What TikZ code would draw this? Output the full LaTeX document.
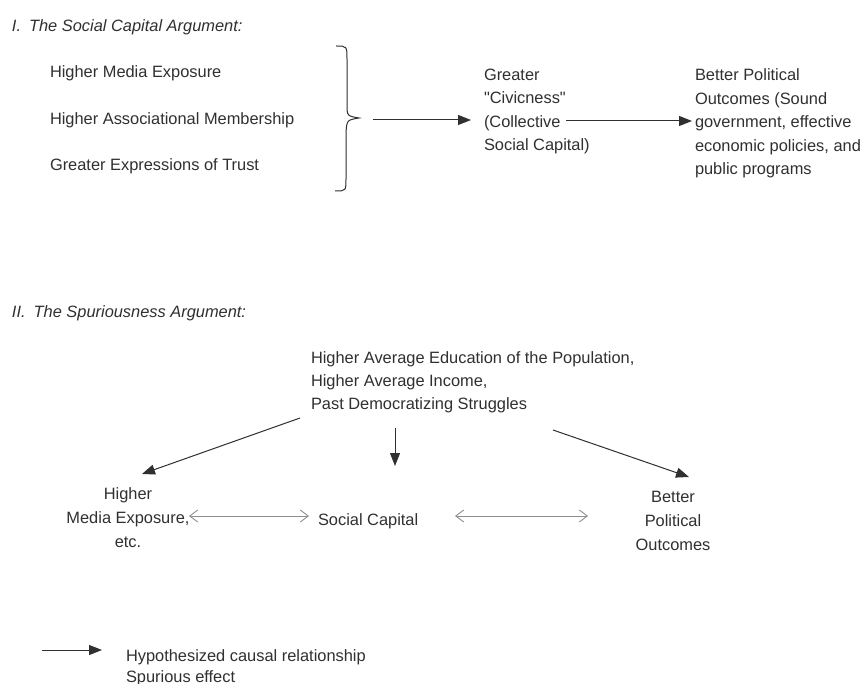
\documentclass[tikz,border=0pt]{standalone}
\usepackage{fontspec}
\setmainfont{Liberation Sans}
\usetikzlibrary{arrows.meta}
\definecolor{ink}{HTML}{303030}
\definecolor{spur}{HTML}{8E8E8E}
\begin{document}
\begin{tikzpicture}[x=1pt,y=-1pt,
  txt/.style={inner sep=0pt, outer sep=0pt, text=ink, font={\fontsize{16.4}{23.5}\selectfont}},
  head/.style={txt, font={\fontsize{16.4}{20}\selectfont\itshape}},
  causal/.style={draw=ink, line width=1pt, -{Triangle[length=13pt,width=10pt]}},
  spurious/.style={draw=spur, line width=0.9pt, {Straight Barb[length=8pt,width=12pt]}-{Straight Barb[length=8pt,width=12pt]}},
  bracestyle/.style={draw=ink, line width=1pt}]
\useasboundingbox[fill=white] (0,0) rectangle (866,684);

% ---------- Section I ----------
\node[head, anchor=base west] (h1) at (12,32) {I.\hspace{8pt}The Social Capital Argument:};
\node[txt, anchor=base west] (m1) at (50,78) {Higher Media Exposure};
\node[txt, anchor=base west] (m2) at (50,125) {Higher Associational Membership};
\node[txt, anchor=base west] (m3) at (50,171) {Greater Expressions of Trust};

\coordinate (btop) at (336,46);
\coordinate (btip) at (359,118);
\coordinate (bbot) at (335,191);
\draw[bracestyle] (btop) .. controls (347,46) .. (347,60) -- (347,104)
  .. controls (347,116) .. (btip) .. controls (347,120) .. (346,132)
  -- (346,178) .. controls (346,191) .. (bbot);

\node[txt, anchor=north west, align=left] (civ) at (484,69)
  {Greater\\\textquotedbl Civicness\textquotedbl\\(Collective\\Social Capital)};
\node[txt, anchor=north west, align=left] (out1) at (695,69)
  {Better Political\\Outcomes (Sound\\government, effective\\economic policies, and\\public programs};

\coordinate (a1s) at (373,120);
\coordinate (a1e) at (471,120);
\draw[causal] (a1s) -- (a1e);
\coordinate (a2s) at (566,121);
\coordinate (a2e) at (692,121);
\draw[causal] (a2s) -- (a2e);

% ---------- Section II ----------
\node[head, anchor=base west] (h2) at (12,317) {II.\hspace{8pt}The Spuriousness Argument:};
\node[txt, anchor=north west, align=left, font={\fontsize{16.4}{23}\selectfont}] (cause) at (311,352)
  {Higher Average Education of the Population,\\Higher Average Income,\\Past Democratizing Struggles};

\node[txt, anchor=north, align=center, font={\fontsize{16.4}{24}\selectfont}] (media) at (128,488)
  {Higher\\Media Exposure,\\etc.};
\node[txt, anchor=base west] (sc) at (318,525) {Social Capital};
\node[txt, anchor=north, align=center, font={\fontsize{16.4}{24}\selectfont}] (out2) at (673,491)
  {Better\\Political\\Outcomes};

\coordinate (l1) at (300,418);
\coordinate (l2) at (142,474);
\draw[causal] (l1) -- (l2);
\coordinate (c1) at (395,428);
\coordinate (c2) at (395,466);
\draw[causal] (c1) -- (c2);
\coordinate (r1) at (553,430);
\coordinate (r2) at (689,477);
\draw[causal] (r1) -- (r2);

\coordinate (s1a) at (189,516);
\coordinate (s1b) at (309,516);
\draw[spurious] (s1a) -- (s1b);
\coordinate (s2a) at (455,516);
\coordinate (s2b) at (588,516);
\draw[spurious] (s2a) -- (s2b);

% ---------- Legend ----------
\coordinate (lg1) at (42,650);
\coordinate (lg2) at (102,650);
\draw[causal] (lg1) -- (lg2);
\node[txt, anchor=base west, font={\fontsize{16.4}{20}\selectfont}] (leg1) at (126,661) {Hypothesized causal relationship};
\node[txt, anchor=base west, font={\fontsize{16.4}{20}\selectfont}] (leg2) at (126,682) {Spurious effect};
\end{tikzpicture}
\end{document}
